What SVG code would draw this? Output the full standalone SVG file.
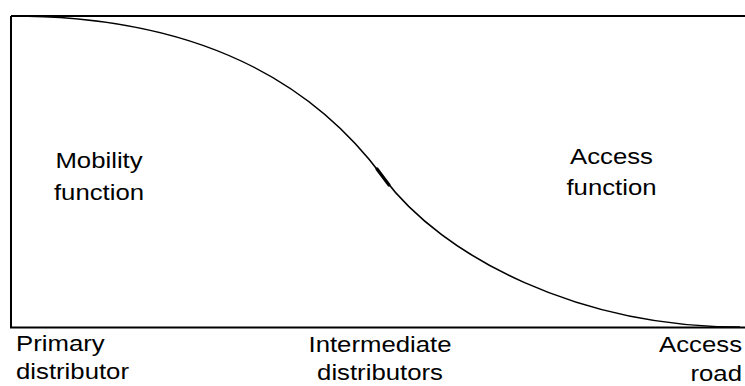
<svg xmlns="http://www.w3.org/2000/svg" width="745" height="386" viewBox="0 0 745 386">
<style>
.t{font-family:"Liberation Sans",Arial,sans-serif;font-size:22px;fill:#000}
.ln{fill:none;stroke:#000;stroke-width:2}
.cv{fill:none;stroke:#000;stroke-width:1.6}
</style>
<rect width="745" height="386" fill="#fff"/>
<g id="frame">
<path class="ln" d="M11,16 H745 M11,16 V327.5 H745"/>
</g>
<g id="connectors">
<path class="cv" d="M11,16 C200,16 313,82.5 383,177 C443,258 580,327 740,327"/>
<path d="M377,169 L389,185" stroke="#000" stroke-width="3.2" stroke-linecap="round" fill="none"/>
</g>
<g id="mobility">
<text class="t" text-anchor="middle" transform="translate(99,0) scale(1.17,1)"><tspan x="0" y="168">Mobility</tspan><tspan x="0" y="200">function</tspan></text>
</g>
<g id="access">
<text class="t" text-anchor="middle" transform="translate(611.5,0) scale(1.17,1)"><tspan x="0" y="164">Access</tspan><tspan x="0" y="195">function</tspan></text>
</g>
<g id="primary">
<text class="t" transform="translate(16,0) scale(1.17,1)"><tspan x="0" y="351">Primary</tspan><tspan x="0" y="379">distributor</tspan></text>
</g>
<g id="intermediate">
<text class="t" text-anchor="middle" transform="translate(380,0) scale(1.17,1)"><tspan x="0" y="352">Intermediate</tspan><tspan x="0" y="380">distributors</tspan></text>
</g>
<g id="accessroad">
<text class="t" text-anchor="end" transform="translate(742,0) scale(1.17,1)"><tspan x="0" y="352">Access</tspan><tspan x="0" y="381">road</tspan></text>
</g>
</svg>
